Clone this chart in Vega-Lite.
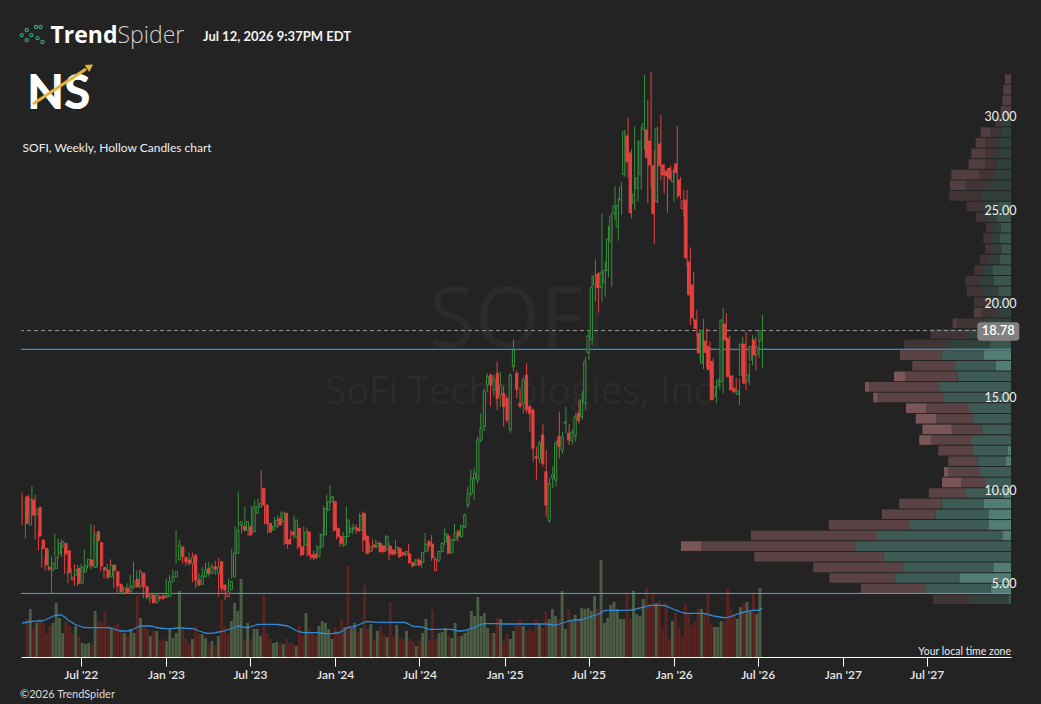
{
  "$schema": "https://vega.github.io/schema/vega-lite/v6.json",
  "width": 990,
  "height": 617,
  "autosize": "none",
  "padding": {"left": 21, "top": 40, "right": 30, "bottom": 47},
  "background": "#232323",
  "config": {"view": {"stroke": null}, "font": "Lato"},
  "datasets": {
    "w": [
      {"d":"2022-03-07","o":9.89,"h":10.1,"l":8.37,"c":8.46,"v":38,"m":34},
      {"d":"2022-03-14","o":8.37,"h":9.8,"l":7.66,"c":9.75,"v":48,"m":34.5},
      {"d":"2022-03-21","o":9.71,"h":9.98,"l":8.85,"c":8.91,"v":29,"m":35},
      {"d":"2022-03-28","o":8.91,"h":10.46,"l":8.82,"c":9.21,"v":34,"m":35.5},
      {"d":"2022-04-04","o":9.32,"h":9.98,"l":7.6,"c":7.78,"v":39,"m":35.8},
      {"d":"2022-04-11","o":7.57,"h":8.02,"l":7.0,"c":7.12,"v":34,"m":36},
      {"d":"2022-04-18","o":7.12,"h":7.2,"l":6.1,"c":6.23,"v":24,"m":36},
      {"d":"2022-04-25","o":6.11,"h":6.64,"l":5.93,"c":6.0,"v":31,"m":37},
      {"d":"2022-05-02","o":5.96,"h":7.07,"l":5.93,"c":6.32,"v":34,"m":38.5},
      {"d":"2022-05-09","o":6.05,"h":6.7,"l":4.71,"c":6.64,"v":54,"m":40},
      {"d":"2022-05-16","o":6.86,"h":7.93,"l":6.71,"c":7.39,"v":39,"m":41.5},
      {"d":"2022-05-23","o":7.21,"h":7.66,"l":6.59,"c":7.48,"v":24,"m":42},
      {"d":"2022-05-30","o":7.39,"h":7.6,"l":6.68,"c":6.82,"v":36,"m":42},
      {"d":"2022-06-06","o":6.99,"h":7.18,"l":5.75,"c":5.82,"v":31,"m":40},
      {"d":"2022-06-13","o":5.43,"h":6.05,"l":5.25,"c":5.57,"v":23,"m":37,"r":1},
      {"d":"2022-06-20","o":5.69,"h":6.05,"l":5.52,"c":5.99,"v":31,"m":35},
      {"d":"2022-06-27","o":6.05,"h":6.28,"l":5.11,"c":5.25,"v":21,"m":33},
      {"d":"2022-07-04","o":5.25,"h":6.23,"l":5.07,"c":6.1,"v":14,"m":31.5},
      {"d":"2022-07-11","o":5.87,"h":6.3,"l":5.8,"c":6.18,"v":13,"m":30.5},
      {"d":"2022-07-18","o":6.23,"h":7.07,"l":6.14,"c":6.53,"v":14,"m":29.5},
      {"d":"2022-07-25","o":6.5,"h":6.55,"l":6.05,"c":6.18,"v":12,"m":29.3},
      {"d":"2022-08-01","o":6.1,"h":8.43,"l":6.0,"c":7.89,"v":46,"m":29.3},
      {"d":"2022-08-08","o":8.02,"h":8.37,"l":7.21,"c":7.53,"v":36,"m":29.3},
      {"d":"2022-08-15","o":7.43,"h":7.5,"l":6.1,"c":6.18,"v":34,"m":29.3},
      {"d":"2022-08-22","o":6.09,"h":6.2,"l":5.9,"c":5.96,"v":46,"m":29.3},
      {"d":"2022-08-29","o":5.96,"h":6.1,"l":5.5,"c":5.57,"v":31,"m":29.3},
      {"d":"2022-09-05","o":5.6,"h":6.3,"l":5.5,"c":6.23,"v":29,"m":29.3},
      {"d":"2022-09-12","o":6.23,"h":6.53,"l":5.7,"c":5.93,"v":31,"m":29},
      {"d":"2022-09-19","o":5.88,"h":6.0,"l":5.0,"c":5.11,"v":33,"m":28},
      {"d":"2022-09-26","o":5.2,"h":5.43,"l":4.71,"c":4.8,"v":28,"m":27},
      {"d":"2022-10-03","o":4.75,"h":5.16,"l":4.7,"c":4.98,"v":24,"m":26},
      {"d":"2022-10-10","o":4.98,"h":5.07,"l":4.65,"c":4.71,"v":21,"m":26},
      {"d":"2022-10-17","o":4.8,"h":5.25,"l":4.75,"c":5.07,"v":28,"m":26},
      {"d":"2022-10-24","o":5.04,"h":5.7,"l":4.95,"c":5.34,"v":24,"m":26.5},
      {"d":"2022-10-31","o":5.46,"h":6.41,"l":4.98,"c":5.07,"v":61,"m":28},
      {"d":"2022-11-07","o":5.07,"h":5.95,"l":5.0,"c":5.87,"v":39,"m":29.5},
      {"d":"2022-11-14","o":5.79,"h":6.0,"l":4.98,"c":5.07,"v":32,"m":31},
      {"d":"2022-11-21","o":5.07,"h":5.1,"l":4.45,"c":4.5,"v":28,"m":31},
      {"d":"2022-11-28","o":4.45,"h":4.8,"l":4.4,"c":4.62,"v":21,"m":31},
      {"d":"2022-12-05","o":4.62,"h":4.7,"l":4.18,"c":4.22,"v":26,"m":31},
      {"d":"2022-12-12","o":4.2,"h":4.75,"l":4.15,"c":4.63,"v":26,"m":30.5},
      {"d":"2022-12-19","o":4.53,"h":4.6,"l":4.35,"c":4.45,"v":16,"m":29.5},
      {"d":"2022-12-26","o":4.57,"h":4.62,"l":4.3,"c":4.45,"v":18,"m":29},
      {"d":"2023-01-02","o":4.5,"h":4.7,"l":4.35,"c":4.62,"v":16,"m":28.5},
      {"d":"2023-01-09","o":4.54,"h":5.5,"l":4.5,"c":5.34,"v":29,"m":28.3},
      {"d":"2023-01-16","o":5.34,"h":5.7,"l":5.2,"c":5.6,"v":19,"m":28.3},
      {"d":"2023-01-23","o":5.6,"h":6.0,"l":5.5,"c":5.87,"v":24,"m":28.5},
      {"d":"2023-01-30","o":6.5,"h":8.1,"l":6.3,"c":7.3,"v":66,"m":29},
      {"d":"2023-02-06","o":7.2,"h":7.57,"l":6.6,"c":6.68,"v":28,"m":29.3},
      {"d":"2023-02-13","o":6.64,"h":6.7,"l":6.3,"c":6.41,"v":18,"m":29},
      {"d":"2023-02-20","o":6.5,"h":6.6,"l":6.2,"c":6.32,"v":13,"m":28.7},
      {"d":"2023-02-27","o":6.32,"h":6.9,"l":6.2,"c":6.64,"v":18,"m":28.5},
      {"d":"2023-03-06","o":6.77,"h":6.9,"l":5.3,"c":5.43,"v":31,"m":28.3},
      {"d":"2023-03-13","o":5.43,"h":5.6,"l":5.0,"c":5.16,"v":23,"m":27.5},
      {"d":"2023-03-20","o":5.2,"h":5.8,"l":5.1,"c":5.65,"v":23,"m":26},
      {"d":"2023-03-27","o":5.6,"h":6.1,"l":5.5,"c":5.96,"v":19,"m":25},
      {"d":"2023-04-03","o":6.05,"h":6.35,"l":5.7,"c":5.78,"v":14,"m":24},
      {"d":"2023-04-10","o":5.78,"h":6.4,"l":5.6,"c":6.14,"v":16,"m":23.7},
      {"d":"2023-04-17","o":6.14,"h":6.3,"l":5.9,"c":6.0,"v":11,"m":23.7},
      {"d":"2023-04-24","o":5.78,"h":6.45,"l":5.7,"c":6.14,"v":21,"m":24.3},
      {"d":"2023-05-01","o":6.41,"h":6.6,"l":4.55,"c":4.98,"v":57,"m":25},
      {"d":"2023-05-08","o":5.16,"h":5.3,"l":4.75,"c":4.9,"v":31,"m":25.5},
      {"d":"2023-05-15","o":4.54,"h":4.9,"l":4.36,"c":4.8,"v":23,"m":26.5,"r":1},
      {"d":"2023-05-22","o":4.9,"h":5.5,"l":4.8,"c":5.34,"v":36,"m":27.5},
      {"d":"2023-05-29","o":5.6,"h":7.1,"l":5.5,"c":6.86,"v":54,"m":28.5},
      {"d":"2023-06-05","o":6.86,"h":8.3,"l":6.8,"c":8.1,"v":46,"m":30},
      {"d":"2023-06-12","o":8.37,"h":10.16,"l":8.0,"c":8.55,"v":78,"m":31},
      {"d":"2023-06-19","o":8.3,"h":8.5,"l":7.9,"c":8.1,"v":18,"m":30.5},
      {"d":"2023-06-26","o":8.1,"h":9.35,"l":8.0,"c":8.55,"v":34,"m":29.5},
      {"d":"2023-07-03","o":8.3,"h":8.5,"l":7.75,"c":7.84,"v":18,"m":29.5},
      {"d":"2023-07-10","o":8.0,"h":9.4,"l":7.95,"c":9.35,"v":28,"m":30.5},
      {"d":"2023-07-17","o":9.0,"h":9.7,"l":8.9,"c":9.35,"v":28,"m":31.5},
      {"d":"2023-07-24","o":9.35,"h":9.8,"l":9.2,"c":9.53,"v":21,"m":32.5},
      {"d":"2023-07-31","o":10.34,"h":11.3,"l":9.3,"c":9.44,"v":62,"m":32.7},
      {"d":"2023-08-07","o":9.44,"h":9.6,"l":8.4,"c":8.46,"v":23,"m":32.7},
      {"d":"2023-08-14","o":8.46,"h":8.6,"l":7.9,"c":8.0,"v":18,"m":32.7},
      {"d":"2023-08-21","o":8.1,"h":8.5,"l":7.95,"c":8.3,"v":14,"m":32.7},
      {"d":"2023-08-28","o":8.3,"h":8.8,"l":8.2,"c":8.64,"v":15,"m":32.7},
      {"d":"2023-09-04","o":8.73,"h":8.9,"l":8.2,"c":8.37,"v":14,"m":32.5},
      {"d":"2023-09-11","o":8.55,"h":9.1,"l":8.4,"c":9.0,"v":13,"m":32},
      {"d":"2023-09-18","o":9.0,"h":9.1,"l":7.3,"c":7.39,"v":18,"m":31.5},
      {"d":"2023-09-25","o":7.6,"h":8.0,"l":7.1,"c":7.35,"v":14,"m":31},
      {"d":"2023-10-02","o":8.0,"h":8.1,"l":7.6,"c":7.84,"v":14,"m":29.5},
      {"d":"2023-10-09","o":7.75,"h":8.9,"l":7.6,"c":8.64,"v":11,"m":27.5},
      {"d":"2023-10-16","o":8.2,"h":8.5,"l":7.1,"c":7.2,"v":31,"m":26},
      {"d":"2023-10-23","o":7.2,"h":7.3,"l":6.7,"c":6.77,"v":21,"m":25},
      {"d":"2023-10-30","o":7.3,"h":8.3,"l":7.0,"c":8.0,"v":44,"m":24.3},
      {"d":"2023-11-06","o":8.0,"h":8.2,"l":6.7,"c":6.77,"v":29,"m":24.3},
      {"d":"2023-11-13","o":6.77,"h":6.9,"l":6.5,"c":6.64,"v":24,"m":24.3},
      {"d":"2023-11-20","o":6.8,"h":7.0,"l":6.5,"c":6.6,"v":21,"m":24.3},
      {"d":"2023-11-27","o":6.68,"h":7.3,"l":6.6,"c":7.2,"v":31,"m":24.3},
      {"d":"2023-12-04","o":7.2,"h":7.95,"l":7.1,"c":7.84,"v":36,"m":24},
      {"d":"2023-12-11","o":7.84,"h":9.4,"l":7.7,"c":9.26,"v":34,"m":23.5},
      {"d":"2023-12-18","o":9.17,"h":10.0,"l":9.0,"c":9.62,"v":28,"m":23.3},
      {"d":"2023-12-25","o":9.62,"h":10.5,"l":9.5,"c":9.89,"v":18,"m":23.3},
      {"d":"2024-01-01","o":9.62,"h":9.9,"l":8.0,"c":8.1,"v":30,"m":23.5},
      {"d":"2024-01-08","o":8.2,"h":8.4,"l":7.6,"c":7.75,"v":26,"m":24},
      {"d":"2024-01-15","o":7.75,"h":7.9,"l":7.2,"c":7.39,"v":38,"m":24.5},
      {"d":"2024-01-22","o":7.3,"h":8.0,"l":7.2,"c":7.75,"v":30,"m":26.5},
      {"d":"2024-01-29","o":7.75,"h":9.35,"l":7.4,"c":8.64,"v":91,"m":28.5,"vr":1},
      {"d":"2024-02-05","o":8.0,"h":8.4,"l":7.9,"c":8.2,"v":29,"m":30},
      {"d":"2024-02-12","o":8.15,"h":8.45,"l":7.9,"c":8.25,"v":34,"m":30.3},
      {"d":"2024-02-19","o":8.2,"h":8.4,"l":7.9,"c":8.07,"v":25,"m":31},
      {"d":"2024-02-26","o":8.1,"h":9.0,"l":8.0,"c":8.9,"v":29,"m":32.5},
      {"d":"2024-03-04","o":9.0,"h":9.1,"l":6.95,"c":7.57,"v":72,"m":34},
      {"d":"2024-03-11","o":7.75,"h":7.9,"l":6.8,"c":6.86,"v":28,"m":35.3},
      {"d":"2024-03-18","o":6.95,"h":7.4,"l":6.9,"c":7.2,"v":33,"m":35.3},
      {"d":"2024-03-25","o":7.3,"h":7.6,"l":7.0,"c":7.2,"v":18,"m":35},
      {"d":"2024-04-01","o":7.2,"h":7.6,"l":7.1,"c":7.39,"v":26,"m":34.8},
      {"d":"2024-04-08","o":7.39,"h":7.5,"l":6.9,"c":6.95,"v":31,"m":34.7},
      {"d":"2024-04-15","o":7.25,"h":7.3,"l":6.85,"c":6.95,"v":23,"m":34.7},
      {"d":"2024-04-22","o":7.03,"h":7.8,"l":6.95,"c":7.78,"v":20,"m":34.7},
      {"d":"2024-04-29","o":7.25,"h":7.39,"l":6.5,"c":6.82,"v":55,"m":34.7},
      {"d":"2024-05-06","o":7.03,"h":7.1,"l":6.75,"c":6.82,"v":21,"m":34.7},
      {"d":"2024-05-13","o":6.89,"h":7.57,"l":6.77,"c":7.18,"v":32,"m":34.7},
      {"d":"2024-05-20","o":7.12,"h":7.2,"l":6.6,"c":6.68,"v":19,"m":34.7},
      {"d":"2024-05-27","o":6.89,"h":6.95,"l":6.7,"c":6.77,"v":18,"m":34.7},
      {"d":"2024-06-03","o":6.77,"h":7.0,"l":6.7,"c":6.95,"v":26,"m":34.5},
      {"d":"2024-06-10","o":6.82,"h":7.35,"l":6.3,"c":6.36,"v":18,"m":33},
      {"d":"2024-06-17","o":6.36,"h":6.4,"l":6.1,"c":6.18,"v":16,"m":31},
      {"d":"2024-06-24","o":6.23,"h":6.55,"l":6.2,"c":6.5,"v":11,"m":30.3},
      {"d":"2024-07-01","o":6.5,"h":6.59,"l":6.18,"c":6.23,"v":16,"m":30.3},
      {"d":"2024-07-08","o":6.36,"h":6.9,"l":6.05,"c":6.89,"v":24,"m":30},
      {"d":"2024-07-15","o":6.95,"h":7.93,"l":6.9,"c":7.35,"v":38,"m":29},
      {"d":"2024-07-22","o":7.48,"h":7.57,"l":6.95,"c":7.25,"v":18,"m":28},
      {"d":"2024-07-29","o":7.35,"h":7.84,"l":6.45,"c":6.62,"v":47,"m":27.7},
      {"d":"2024-08-05","o":5.93,"h":6.68,"l":5.93,"c":6.53,"v":18,"m":27.7,"r":1},
      {"d":"2024-08-12","o":6.46,"h":7.0,"l":6.4,"c":6.95,"v":24,"m":27.7},
      {"d":"2024-08-19","o":6.95,"h":7.45,"l":6.9,"c":7.39,"v":25,"m":27.7},
      {"d":"2024-08-26","o":7.48,"h":8.2,"l":7.3,"c":7.89,"v":29,"m":27.7},
      {"d":"2024-09-02","o":7.78,"h":7.93,"l":6.82,"c":6.86,"v":21,"m":27.7},
      {"d":"2024-09-09","o":6.89,"h":7.62,"l":6.85,"c":7.6,"v":19,"m":27.7},
      {"d":"2024-09-16","o":7.57,"h":8.43,"l":7.5,"c":7.93,"v":34,"m":27},
      {"d":"2024-09-23","o":8.05,"h":8.1,"l":7.48,"c":7.78,"v":21,"m":26},
      {"d":"2024-09-30","o":7.75,"h":8.4,"l":7.7,"c":8.32,"v":21,"m":26},
      {"d":"2024-10-07","o":8.25,"h":9.0,"l":8.2,"c":8.91,"v":24,"m":26.5},
      {"d":"2024-10-14","o":9.44,"h":10.43,"l":9.27,"c":10.07,"v":27,"m":27.5},
      {"d":"2024-10-21","o":10.07,"h":11.32,"l":9.9,"c":10.87,"v":46,"m":28.7},
      {"d":"2024-10-28","o":10.87,"h":11.41,"l":9.71,"c":11.14,"v":41,"m":29.3},
      {"d":"2024-11-04","o":10.78,"h":13.1,"l":10.6,"c":12.92,"v":60,"m":31},
      {"d":"2024-11-11","o":12.92,"h":14.35,"l":12.8,"c":13.55,"v":41,"m":32.5},
      {"d":"2024-11-18","o":13.64,"h":15.7,"l":13.4,"c":15.51,"v":44,"m":33.3},
      {"d":"2024-11-25","o":15.87,"h":16.5,"l":15.5,"c":16.31,"v":29,"m":33.3},
      {"d":"2024-12-02","o":16.4,"h":16.49,"l":14.71,"c":15.87,"v":24,"m":33.3},
      {"d":"2024-12-09","o":15.6,"h":16.4,"l":15.3,"c":16.14,"v":24,"m":33.3},
      {"d":"2024-12-16","o":16.49,"h":17.12,"l":14.53,"c":15.15,"v":39,"m":33.3},
      {"d":"2024-12-23","o":15.33,"h":16.58,"l":14.71,"c":15.87,"v":38,"m":33.2},
      {"d":"2024-12-30","o":15.42,"h":15.82,"l":13.64,"c":14.71,"v":16,"m":33},
      {"d":"2025-01-06","o":15.15,"h":15.3,"l":13.82,"c":13.99,"v":23,"m":33},
      {"d":"2025-01-13","o":13.46,"h":16.5,"l":13.3,"c":16.4,"v":18,"m":33},
      {"d":"2025-01-20","o":16.85,"h":18.31,"l":16.6,"c":17.74,"v":26,"m":33},
      {"d":"2025-01-27","o":16.5,"h":16.64,"l":15.15,"c":15.64,"v":33,"m":33},
      {"d":"2025-02-03","o":14.89,"h":15.69,"l":14.62,"c":14.74,"v":38,"m":33},
      {"d":"2025-02-10","o":14.89,"h":16.3,"l":14.35,"c":16.14,"v":31,"m":33},
      {"d":"2025-02-17","o":16.4,"h":17.03,"l":14.35,"c":14.53,"v":26,"m":33},
      {"d":"2025-02-24","o":14.71,"h":14.8,"l":13.37,"c":14.35,"v":28,"m":33},
      {"d":"2025-03-03","o":14.53,"h":14.6,"l":11.76,"c":12.48,"v":26,"m":33},
      {"d":"2025-03-10","o":12.03,"h":12.57,"l":10.78,"c":11.94,"v":38,"m":33},
      {"d":"2025-03-17","o":11.94,"h":12.9,"l":11.67,"c":12.75,"v":33,"m":33},
      {"d":"2025-03-24","o":13.19,"h":13.76,"l":11.5,"c":11.67,"v":29,"m":33},
      {"d":"2025-03-31","o":11.23,"h":12.39,"l":8.82,"c":9.44,"v":46,"m":33},
      {"d":"2025-04-07","o":8.61,"h":10.9,"l":8.5,"c":10.6,"v":38,"m":32.5},
      {"d":"2025-04-14","o":10.87,"h":11.53,"l":10.34,"c":11.05,"v":48,"m":32},
      {"d":"2025-04-21","o":10.78,"h":12.9,"l":10.43,"c":12.75,"v":41,"m":32},
      {"d":"2025-04-28","o":13.1,"h":14.44,"l":11.94,"c":12.57,"v":38,"m":33},
      {"d":"2025-05-05","o":12.39,"h":13.37,"l":12.2,"c":13.1,"v":66,"m":34},
      {"d":"2025-05-12","o":13.82,"h":14.71,"l":13.28,"c":13.9,"v":28,"m":35},
      {"d":"2025-05-19","o":13.28,"h":13.78,"l":12.66,"c":12.92,"v":48,"m":36},
      {"d":"2025-05-26","o":12.9,"h":13.5,"l":12.7,"c":13.32,"v":36,"m":36.8},
      {"d":"2025-06-02","o":13.14,"h":14.35,"l":12.83,"c":14.17,"v":42,"m":37},
      {"d":"2025-06-09","o":14.35,"h":15.1,"l":13.8,"c":13.96,"v":38,"m":37},
      {"d":"2025-06-16","o":14.17,"h":15.56,"l":14.0,"c":15.06,"v":49,"m":37.5},
      {"d":"2025-06-23","o":14.89,"h":17.39,"l":14.53,"c":17.12,"v":48,"m":38.5},
      {"d":"2025-06-30","o":17.6,"h":18.81,"l":17.21,"c":18.49,"v":49,"m":39.5},
      {"d":"2025-07-07","o":18.3,"h":21.76,"l":18.0,"c":21.1,"v":46,"m":40.8},
      {"d":"2025-07-14","o":21.22,"h":22.59,"l":20.33,"c":21.7,"v":61,"m":42},
      {"d":"2025-07-21","o":21.81,"h":21.9,"l":19.74,"c":21.08,"v":48,"m":43},
      {"d":"2025-07-28","o":21.1,"h":25.02,"l":20.33,"c":21.9,"v":97,"m":45},
      {"d":"2025-08-04","o":21.35,"h":22.51,"l":20.6,"c":21.99,"v":34,"m":46.7},
      {"d":"2025-08-11","o":21.99,"h":24.38,"l":21.63,"c":23.68,"v":39,"m":46.7},
      {"d":"2025-08-18","o":23.54,"h":25.09,"l":21.13,"c":24.91,"v":52,"m":46.7},
      {"d":"2025-08-25","o":25.02,"h":26.52,"l":24.7,"c":25.45,"v":55,"m":46.7},
      {"d":"2025-09-01","o":24.34,"h":25.86,"l":23.59,"c":25.48,"v":48,"m":46.7},
      {"d":"2025-09-08","o":25.77,"h":26.73,"l":24.97,"c":26.47,"v":38,"m":46.7},
      {"d":"2025-09-15","o":27.13,"h":29.52,"l":27.02,"c":29.41,"v":38,"m":46.7},
      {"d":"2025-09-22","o":29.2,"h":30.16,"l":26.97,"c":27.82,"v":64,"m":46.8},
      {"d":"2025-09-29","o":28.29,"h":28.5,"l":24.79,"c":25.09,"v":38,"m":47},
      {"d":"2025-10-06","o":25.59,"h":29.7,"l":25.24,"c":26.09,"v":66,"m":47.5},
      {"d":"2025-10-13","o":26.38,"h":28.98,"l":25.68,"c":26.95,"v":43,"m":48.5},
      {"d":"2025-10-20","o":27.15,"h":29.73,"l":26.31,"c":28.88,"v":41,"m":49.3},
      {"d":"2025-10-27","o":29.55,"h":32.46,"l":28.45,"c":29.84,"v":58,"m":50},
      {"d":"2025-11-03","o":29.52,"h":31.12,"l":25.59,"c":28.04,"v":69,"m":51},
      {"d":"2025-11-10","o":28.93,"h":32.61,"l":26.43,"c":27.64,"v":53,"m":51.7},
      {"d":"2025-11-17","o":27.59,"h":28.45,"l":23.43,"c":25.04,"v":64,"m":51.7},
      {"d":"2025-11-24","o":25.68,"h":29.7,"l":25.59,"c":29.61,"v":54,"m":51.7},
      {"d":"2025-12-01","o":28.77,"h":30.32,"l":26.84,"c":27.61,"v":56,"m":51.7},
      {"d":"2025-12-08","o":27.64,"h":27.7,"l":26.13,"c":27.11,"v":28,"m":51.5},
      {"d":"2025-12-15","o":27.32,"h":27.47,"l":25.09,"c":27.07,"v":54,"m":50.3},
      {"d":"2025-12-22","o":27.47,"h":27.6,"l":26.8,"c":26.93,"v":18,"m":49},
      {"d":"2025-12-29","o":26.75,"h":27.5,"l":25.68,"c":27.32,"v":36,"m":47.5},
      {"d":"2026-01-05","o":27.7,"h":29.73,"l":25.86,"c":27.23,"v":44,"m":46.3},
      {"d":"2026-01-12","o":26.84,"h":27.0,"l":25.81,"c":26.0,"v":30,"m":45},
      {"d":"2026-01-19","o":25.32,"h":26.31,"l":24.88,"c":25.72,"v":21,"m":44,"r":1},
      {"d":"2026-01-26","o":25.77,"h":26.31,"l":22.2,"c":22.68,"v":54,"m":43.7},
      {"d":"2026-02-02","o":22.45,"h":23.24,"l":19.08,"c":20.69,"v":44,"m":43.7},
      {"d":"2026-02-09","o":21.22,"h":21.92,"l":19.3,"c":19.47,"v":32,"m":43.7},
      {"d":"2026-02-16","o":19.35,"h":19.88,"l":18.45,"c":18.9,"v":36,"m":43.7},
      {"d":"2026-02-23","o":18.63,"h":18.8,"l":17.2,"c":17.58,"v":48,"m":43.7},
      {"d":"2026-03-02","o":17.03,"h":19.4,"l":16.71,"c":18.81,"v":48,"m":43.7},
      {"d":"2026-03-09","o":18.22,"h":18.9,"l":16.85,"c":17.6,"v":44,"m":43},
      {"d":"2026-03-16","o":17.92,"h":18.19,"l":16.49,"c":16.7,"v":63,"m":42},
      {"d":"2026-03-23","o":17.12,"h":17.29,"l":15.06,"c":15.08,"v":33,"m":41.2},
      {"d":"2026-03-30","o":15.24,"h":16.13,"l":14.89,"c":15.76,"v":30,"m":40.5},
      {"d":"2026-04-06","o":15.81,"h":16.3,"l":15.6,"c":16.13,"v":30,"m":40},
      {"d":"2026-04-13","o":16.05,"h":20.0,"l":15.42,"c":19.35,"v":36,"m":39.5},
      {"d":"2026-04-20","o":19.13,"h":19.7,"l":18.1,"c":18.28,"v":35,"m":39.3},
      {"d":"2026-04-27","o":18.37,"h":18.5,"l":16.0,"c":16.31,"v":68,"m":40},
      {"d":"2026-05-04","o":16.35,"h":16.4,"l":15.42,"c":15.6,"v":48,"m":41.3},
      {"d":"2026-05-11","o":15.69,"h":16.22,"l":15.42,"c":15.51,"v":41,"m":42.5},
      {"d":"2026-05-18","o":15.37,"h":16.22,"l":14.8,"c":15.55,"v":38,"m":43.7},
      {"d":"2026-05-25","o":16.4,"h":18.45,"l":16.13,"c":18.06,"v":50,"m":44.5},
      {"d":"2026-06-01","o":18.06,"h":18.72,"l":15.6,"c":15.96,"v":53,"m":45.3},
      {"d":"2026-06-08","o":16.05,"h":17.03,"l":15.87,"c":16.4,"v":55,"m":46},
      {"d":"2026-06-15","o":17.2,"h":18.54,"l":16.94,"c":17.92,"v":45,"m":46.7},
      {"d":"2026-06-22","o":18.28,"h":18.45,"l":16.67,"c":17.47,"v":64,"m":46.7},
      {"d":"2026-06-29","o":17.47,"h":18.3,"l":17.3,"c":17.9,"v":43,"m":47},
      {"d":"2026-07-06","o":18.24,"h":19.61,"l":16.76,"c":18.78,"v":69,"m":49}
    ],
    "vp": [
      {"lo":4.143,"hi":4.711,"e0":0,"e1":2.7,"e2":40,"e3":78,"e4":78,"va":0},
      {"lo":4.711,"hi":5.279,"e0":0,"e1":20.3,"e2":85,"e3":150,"e4":150,"va":1},
      {"lo":5.279,"hi":5.848,"e0":0,"e1":51.7,"e2":116.7,"e3":181.7,"e4":181.7,"va":1},
      {"lo":5.848,"hi":6.416,"e0":0,"e1":17.7,"e2":107,"e3":197.7,"e4":197.7,"va":1},
      {"lo":6.416,"hi":6.984,"e0":0,"e1":0,"e2":127.7,"e3":256.7,"e4":256.7,"va":1},
      {"lo":6.984,"hi":7.552,"e0":0,"e1":0,"e2":155,"e3":310,"e4":330,"va":1},
      {"lo":7.552,"hi":8.12,"e0":0,"e1":8.7,"e2":134,"e3":260,"e4":260,"va":1},
      {"lo":8.12,"hi":8.689,"e0":0,"e1":22.7,"e2":102,"e3":182.3,"e4":182.3,"va":1},
      {"lo":8.689,"hi":9.257,"e0":0,"e1":22.7,"e2":75.3,"e3":129,"e4":129,"va":1},
      {"lo":9.257,"hi":9.825,"e0":0,"e1":27.7,"e2":69.3,"e3":111.7,"e4":111.7,"va":1},
      {"lo":9.825,"hi":10.393,"e0":0,"e1":7,"e2":45,"e3":82.3,"e4":82.3,"va":1},
      {"lo":10.393,"hi":10.961,"e0":0,"e1":0,"e2":25,"e3":50,"e4":69,"va":1},
      {"lo":10.961,"hi":11.53,"e0":0,"e1":0,"e2":31,"e3":62.7,"e4":67,"va":1},
      {"lo":11.53,"hi":12.098,"e0":0,"e1":5,"e2":33.7,"e3":62.7,"e4":62.7,"va":1},
      {"lo":12.098,"hi":12.666,"e0":0,"e1":3.7,"e2":38.3,"e3":72.7,"e4":72.7,"va":1},
      {"lo":12.666,"hi":13.234,"e0":0,"e1":0,"e2":40,"e3":80,"e4":91.7,"va":1},
      {"lo":13.234,"hi":13.802,"e0":0,"e1":0,"e2":29.3,"e3":59.3,"e4":88.7,"va":1},
      {"lo":13.802,"hi":14.371,"e0":0,"e1":0,"e2":37,"e3":75,"e4":95.3,"va":1},
      {"lo":14.371,"hi":14.939,"e0":0,"e1":0,"e2":42,"e3":85,"e4":105,"va":1},
      {"lo":14.939,"hi":15.507,"e0":0,"e1":0,"e2":67,"e3":133.3,"e4":137.7,"va":1},
      {"lo":15.507,"hi":16.075,"e0":0,"e1":0,"e2":71,"e3":142,"e4":146,"va":1},
      {"lo":16.075,"hi":16.643,"e0":0,"e1":0,"e2":53.3,"e3":106,"e4":117,"va":1},
      {"lo":16.643,"hi":17.212,"e0":0,"e1":15,"e2":56.7,"e3":98.7,"e4":98.7,"va":1},
      {"lo":17.212,"hi":17.78,"e0":0,"e1":27,"e2":69.3,"e3":111,"e4":111,"va":1},
      {"lo":17.78,"hi":18.348,"e0":0,"e1":21,"e2":64.3,"e3":106.7,"e4":106.7,"va":0},
      {"lo":18.348,"hi":18.916,"e0":0,"e1":11,"e2":41,"e3":80.3,"e4":80.3,"va":0},
      {"lo":18.916,"hi":19.484,"e0":0,"e1":0,"e2":27.7,"e3":53.7,"e4":58.3,"va":0},
      {"lo":19.484,"hi":20.053,"e0":0,"e1":0,"e2":14.3,"e3":29.3,"e4":37,"va":0},
      {"lo":20.053,"hi":20.621,"e0":0,"e1":0,"e2":19,"e3":37,"e4":37,"va":0},
      {"lo":20.621,"hi":21.189,"e0":0,"e1":12.7,"e2":28.3,"e3":44.3,"e4":44.3,"va":0},
      {"lo":21.189,"hi":21.757,"e0":0,"e1":17,"e2":31.7,"e3":45.7,"e4":45.7,"va":0},
      {"lo":21.757,"hi":22.325,"e0":0,"e1":18.3,"e2":27,"e3":36.7,"e4":36.7,"va":0},
      {"lo":22.325,"hi":22.894,"e0":0,"e1":11,"e2":21,"e3":31,"e4":31,"va":0},
      {"lo":22.894,"hi":23.462,"e0":0,"e1":9.3,"e2":17.7,"e3":26,"e4":26,"va":0},
      {"lo":23.462,"hi":24.03,"e0":0,"e1":11,"e2":19.3,"e3":27.7,"e4":27.7,"va":0},
      {"lo":24.03,"hi":24.598,"e0":0,"e1":10.3,"e2":17.7,"e3":25,"e4":25,"va":0},
      {"lo":24.598,"hi":25.166,"e0":0,"e1":14.3,"e2":24.3,"e3":35,"e4":35,"va":0},
      {"lo":25.166,"hi":25.735,"e0":0,"e1":12.7,"e2":27.7,"e3":44.3,"e4":44.3,"va":0},
      {"lo":25.735,"hi":26.303,"e0":0,"e1":0,"e2":30.3,"e3":61.7,"e4":61.7,"va":0},
      {"lo":26.303,"hi":26.871,"e0":0,"e1":0,"e2":22.7,"e3":45,"e4":61,"va":0},
      {"lo":26.871,"hi":27.439,"e0":0,"e1":0,"e2":16,"e3":31.7,"e4":59.7,"va":0},
      {"lo":27.439,"hi":28.007,"e0":0,"e1":0,"e2":14.3,"e3":26,"e4":42.3,"va":0},
      {"lo":28.007,"hi":28.576,"e0":0,"e1":0,"e2":13.7,"e3":26,"e4":39.7,"va":0},
      {"lo":28.576,"hi":29.144,"e0":0,"e1":0,"e2":13.7,"e3":26,"e4":35.3,"va":0},
      {"lo":29.144,"hi":29.712,"e0":0,"e1":0,"e2":10.3,"e3":20.3,"e4":30.3,"va":0},
      {"lo":29.712,"hi":30.28,"e0":0,"e1":0,"e2":8,"e3":16,"e4":16,"va":0},
      {"lo":30.28,"hi":30.848,"e0":0,"e1":0,"e2":0,"e3":0,"e4":10.3,"va":0},
      {"lo":30.848,"hi":31.417,"e0":0,"e1":0,"e2":0,"e3":0,"e4":8.7,"va":0},
      {"lo":31.417,"hi":31.985,"e0":0,"e1":0,"e2":0,"e3":0,"e4":7.7,"va":0},
      {"lo":31.985,"hi":32.553,"e0":0,"e1":0,"e2":0,"e3":0,"e4":6,"va":0}
    ]
  },
  "layer": [
    {
      "data": {"values": [{"t": "SOFI", "d": "2025-01-29T17:00:00Z", "p": 17.9}]},
      "mark": {"type": "text", "font": "Open Sans", "fontSize": 84, "color": "#2b2b2b", "align": "center", "baseline": "alphabetic"},
      "encoding": {
        "x": {"field": "d", "type": "temporal", "scale": {"type": "utc", "domain": [{"year": 2022, "month": 3, "date": 4, "hours": 17, "utc": true}, {"year": 2027, "month": 12, "date": 19, "hours": 2, "utc": true}]}, "axis": null},
        "y": {"field": "p", "type": "quantitative", "scale": {"domain": [1.3062, 34.336], "nice": false, "zero": false}, "axis": null},
        "text": {"field": "t", "type": "nominal"}
      }
    },
    {
      "data": {"values": [{"t": "SoFi Technologies, Inc", "d": "2025-01-31T00:00:00Z", "p": 14.85}]},
      "mark": {"type": "text", "font": "Open Sans", "fontSize": 38, "color": "#2b2b2b", "align": "center", "baseline": "alphabetic"},
      "encoding": {
        "x": {"field": "d", "type": "temporal", "scale": {"type": "utc", "domain": [{"year": 2022, "month": 3, "date": 4, "hours": 17, "utc": true}, {"year": 2027, "month": 12, "date": 19, "hours": 2, "utc": true}]}, "axis": null},
        "y": {"field": "p", "type": "quantitative", "scale": {"domain": [1.3062, 34.336], "nice": false, "zero": false}, "axis": null},
        "text": {"field": "t", "type": "nominal"}
      }
    },
    {
      "data": {"name": "vp"},
      "mark": {"type": "rect", "color": "#527d72", "y2Offset": 1},
      "encoding": {
        "x": {"field": "e0", "type": "quantitative", "scale": {"domain": [0, 990], "reverse": true, "nice": false, "zero": false}, "axis": null},
        "x2": {"field": "e1"},
        "y": {"field": "lo", "type": "quantitative", "scale": {"domain": [1.3062, 34.336], "nice": false, "zero": false}, "axis": null},
        "y2": {"field": "hi"},
        "opacity": {"condition": {"test": "datum.va == 1", "value": 1}, "value": 0.55}
      }
    },
    {
      "data": {"name": "vp"},
      "mark": {"type": "rect", "color": "#3e5a54", "y2Offset": 1},
      "encoding": {
        "x": {"field": "e1", "type": "quantitative", "scale": {"domain": [0, 990], "reverse": true, "nice": false, "zero": false}, "axis": null},
        "x2": {"field": "e2"},
        "y": {"field": "lo", "type": "quantitative", "scale": {"domain": [1.3062, 34.336], "nice": false, "zero": false}, "axis": null},
        "y2": {"field": "hi"},
        "opacity": {"condition": {"test": "datum.va == 1", "value": 1}, "value": 0.55}
      }
    },
    {
      "data": {"name": "vp"},
      "mark": {"type": "rect", "color": "#5b4345", "y2Offset": 1},
      "encoding": {
        "x": {"field": "e2", "type": "quantitative", "scale": {"domain": [0, 990], "reverse": true, "nice": false, "zero": false}, "axis": null},
        "x2": {"field": "e3"},
        "y": {"field": "lo", "type": "quantitative", "scale": {"domain": [1.3062, 34.336], "nice": false, "zero": false}, "axis": null},
        "y2": {"field": "hi"},
        "opacity": {"condition": {"test": "datum.va == 1", "value": 1}, "value": 0.55}
      }
    },
    {
      "data": {"name": "vp"},
      "mark": {"type": "rect", "color": "#7a5658", "y2Offset": 1},
      "encoding": {
        "x": {"field": "e3", "type": "quantitative", "scale": {"domain": [0, 990], "reverse": true, "nice": false, "zero": false}, "axis": null},
        "x2": {"field": "e4"},
        "y": {"field": "lo", "type": "quantitative", "scale": {"domain": [1.3062, 34.336], "nice": false, "zero": false}, "axis": null},
        "y2": {"field": "hi"},
        "opacity": {"condition": {"test": "datum.va == 1", "value": 1}, "value": 0.55}
      }
    },
    {
      "data": {"name": "w"},
      "mark": {"type": "bar", "width": 2.9},
      "encoding": {
        "x": {"field": "d", "type": "temporal", "scale": {"type": "utc", "domain": [{"year": 2022, "month": 3, "date": 4, "hours": 17, "utc": true}, {"year": 2027, "month": 12, "date": 19, "hours": 2, "utc": true}]}, "axis": null},
        "y": {"field": "v", "type": "quantitative", "scale": {"domain": [0, 617], "nice": false}, "axis": null},
        "color": {"condition": {"test": "datum.c < datum.o || datum.r == 1 || datum.vr == 1", "value": "#5a231f"}, "value": "#4b5e44"}
      }
    },
    {
      "data": {"name": "w"},
      "mark": {"type": "line", "color": "#2f8ad8", "strokeWidth": 1.3},
      "encoding": {
        "x": {"field": "d", "type": "temporal", "scale": {"type": "utc", "domain": [{"year": 2022, "month": 3, "date": 4, "hours": 17, "utc": true}, {"year": 2027, "month": 12, "date": 19, "hours": 2, "utc": true}]}, "axis": null},
        "y": {"field": "m", "type": "quantitative", "scale": {"domain": [0, 617], "nice": false}, "axis": null}
      }
    },
    {
      "data": {"values": [{"p": 17.78}, {"p": 4.71}]},
      "mark": {"type": "rule", "color": "#38b0e4", "strokeWidth": 1},
      "encoding": {
        "y": {"field": "p", "type": "quantitative", "scale": {"domain": [1.3062, 34.336], "nice": false, "zero": false}, "axis": null}
      }
    },
    {
      "data": {"values": [{"p": 18.78}]},
      "mark": {"type": "rule", "color": "#9a9a9a", "strokeWidth": 1, "strokeDash": [4, 3]},
      "encoding": {
        "y": {"field": "p", "type": "quantitative", "scale": {"domain": [1.3062, 34.336], "nice": false, "zero": false}, "axis": null}
      }
    },
    {
      "data": {"name": "w"},
      "mark": {"type": "rule", "strokeWidth": 1},
      "encoding": {
        "x": {"field": "d", "type": "temporal", "scale": {"type": "utc", "domain": [{"year": 2022, "month": 3, "date": 4, "hours": 17, "utc": true}, {"year": 2027, "month": 12, "date": 19, "hours": 2, "utc": true}]}, "axis": null},
        "y": {"field": "l", "type": "quantitative", "scale": {"domain": [1.3062, 34.336], "nice": false, "zero": false}, "axis": null},
        "y2": {"field": "h"},
        "color": {"condition": {"test": "datum.c < datum.o || datum.r == 1", "value": "#e5403e"}, "value": "#36903c"}
      }
    },
    {
      "data": {"name": "w"},
      "mark": {"type": "bar", "width": 2.2, "strokeWidth": 1},
      "encoding": {
        "x": {
          "field": "d", "type": "temporal",
          "scale": {"type": "utc", "domain": [{"year": 2022, "month": 3, "date": 4, "hours": 17, "utc": true}, {"year": 2027, "month": 12, "date": 19, "hours": 2, "utc": true}]},
          "axis": {
            "orient": "bottom", "title": null, "grid": false,
            "values": [
              {"year": 2022, "month": 7, "date": 1, "utc": true},
              {"year": 2023, "month": 1, "date": 1, "utc": true},
              {"year": 2023, "month": 7, "date": 1, "utc": true},
              {"year": 2024, "month": 1, "date": 1, "utc": true},
              {"year": 2024, "month": 7, "date": 1, "utc": true},
              {"year": 2025, "month": 1, "date": 1, "utc": true},
              {"year": 2025, "month": 7, "date": 1, "utc": true},
              {"year": 2026, "month": 1, "date": 1, "utc": true},
              {"year": 2026, "month": 7, "date": 1, "utc": true},
              {"year": 2027, "month": 1, "date": 1, "utc": true},
              {"year": 2027, "month": 7, "date": 1, "utc": true}
            ],
            "labelExpr": "utcFormat(datum.value, \"%b '%y\")",
            "domainColor": "#ffffff", "domainWidth": 1,
            "tickColor": "#ffffff", "tickSize": 9, "tickWidth": 1,
            "labelColor": "#e8e8e8", "labelFont": "Lato", "labelFontSize": 12, "labelFontWeight": 600,
            "labelPadding": 3, "labelFlush": false, "labelOverlap": false
          }
        },
        "y": {
          "field": "o", "type": "quantitative",
          "scale": {"domain": [1.3062, 34.336], "nice": false, "zero": false},
          "axis": {
            "orient": "right", "title": null, "grid": false, "domain": false, "ticks": false, "tickSize": 0,
            "values": [5, 10, 15, 20, 25, 30], "format": ".2f",
            "labelAlign": "right", "labelBaseline": "alphabetic", "labelPadding": 5,
            "labelColor": "#f0f0f0", "labelFont": "Lato", "labelFontSize": 12.5, "zindex": 1
          }
        },
        "y2": {"field": "c"},
        "stroke": {"condition": {"test": "datum.c < datum.o || datum.r == 1", "value": "#e5403e"}, "value": "#36903c"},
        "fill": {"condition": {"test": "datum.c < datum.o", "value": "#e5403e"}, "value": "#232323"}
      }
    },
    {
      "data": {"values": [{"x1": -8.3, "x2": 33.7, "p1": 18.24, "p2": 19.22}]},
      "mark": {"type": "rect", "color": "#808080", "cornerRadius": 3},
      "encoding": {
        "x": {"field": "x1", "type": "quantitative", "scale": {"domain": [0, 990], "reverse": true, "nice": false, "zero": false}, "axis": null},
        "x2": {"field": "x2"},
        "y": {"field": "p1", "type": "quantitative", "scale": {"domain": [1.3062, 34.336], "nice": false, "zero": false}, "axis": null},
        "y2": {"field": "p2"}
      }
    },
    {
      "data": {"values": [{"p": 18.78, "x": 12.7}]},
      "mark": {"type": "text", "font": "Lato", "fontSize": 13, "fontWeight": 600, "color": "#ffffff", "align": "center", "baseline": "middle"},
      "encoding": {
        "x": {"field": "x", "type": "quantitative", "scale": {"domain": [0, 990], "reverse": true, "nice": false, "zero": false}, "axis": null},
        "y": {"field": "p", "type": "quantitative", "scale": {"domain": [1.3062, 34.336], "nice": false, "zero": false}, "axis": null},
        "text": {"field": "p", "type": "quantitative", "format": ".2f"}
      }
    },
    {
      "data": {"values": [{"t": "Trend", "d": "2022-09-27T00:00:00Z", "p": 34.19}]},
      "mark": {"type": "text", "font": "Open Sans", "fontSize": 23, "fontWeight": "bold", "color": "#ffffff", "align": "right", "baseline": "alphabetic"},
      "encoding": {
        "x": {"field": "d", "type": "temporal", "scale": {"type": "utc", "domain": [{"year": 2022, "month": 3, "date": 4, "hours": 17, "utc": true}, {"year": 2027, "month": 12, "date": 19, "hours": 2, "utc": true}]}, "axis": null},
        "y": {"field": "p", "type": "quantitative", "scale": {"domain": [1.3062, 34.336], "nice": false, "zero": false}, "axis": null},
        "text": {"field": "t", "type": "nominal"}
      }
    },
    {
      "data": {"values": [{"t": "Spider", "d": "2022-09-27T00:00:00Z", "p": 34.19}]},
      "mark": {"type": "text", "font": "Open Sans", "fontSize": 23, "fontWeight": 300, "color": "#cfcfcf", "align": "left", "baseline": "alphabetic"},
      "encoding": {
        "x": {"field": "d", "type": "temporal", "scale": {"type": "utc", "domain": [{"year": 2022, "month": 3, "date": 4, "hours": 17, "utc": true}, {"year": 2027, "month": 12, "date": 19, "hours": 2, "utc": true}]}, "axis": null},
        "y": {"field": "p", "type": "quantitative", "scale": {"domain": [1.3062, 34.336], "nice": false, "zero": false}, "axis": null},
        "text": {"field": "t", "type": "nominal"}
      }
    },
    {
      "data": {"values": [{"t": "Jul 12, 2026 9:37PM EDT", "d": "2023-03-28T14:00:00Z", "p": 34.28}]},
      "mark": {"type": "text", "font": "Lato", "fontSize": 13, "fontWeight": "bold", "color": "#f2f2f2", "align": "left", "baseline": "alphabetic"},
      "encoding": {
        "x": {"field": "d", "type": "temporal", "scale": {"type": "utc", "domain": [{"year": 2022, "month": 3, "date": 4, "hours": 17, "utc": true}, {"year": 2027, "month": 12, "date": 19, "hours": 2, "utc": true}]}, "axis": null},
        "y": {"field": "p", "type": "quantitative", "scale": {"domain": [1.3062, 34.336], "nice": false, "zero": false}, "axis": null},
        "text": {"field": "t", "type": "nominal"}
      }
    },
    {
      "data": {"values": [{"t": "SOFI, Weekly, Hollow Candles chart", "d": "2022-03-08T00:00:00Z", "p": 28.34}]},
      "mark": {"type": "text", "font": "Lato", "fontSize": 12, "color": "#eeeeee", "align": "left", "baseline": "alphabetic"},
      "encoding": {
        "x": {"field": "d", "type": "temporal", "scale": {"type": "utc", "domain": [{"year": 2022, "month": 3, "date": 4, "hours": 17, "utc": true}, {"year": 2027, "month": 12, "date": 19, "hours": 2, "utc": true}]}, "axis": null},
        "y": {"field": "p", "type": "quantitative", "scale": {"domain": [1.3062, 34.336], "nice": false, "zero": false}, "axis": null},
        "text": {"field": "t", "type": "nominal"}
      }
    },
    {
      "data": {"values": [{"t": "©2026 TrendSpider", "d": "2022-03-02T14:00:00Z", "p": -0.889}]},
      "mark": {"type": "text", "font": "Lato", "fontSize": 11, "color": "#dcdcdc", "align": "left", "baseline": "alphabetic"},
      "encoding": {
        "x": {"field": "d", "type": "temporal", "scale": {"type": "utc", "domain": [{"year": 2022, "month": 3, "date": 4, "hours": 17, "utc": true}, {"year": 2027, "month": 12, "date": 19, "hours": 2, "utc": true}]}, "axis": null},
        "y": {"field": "p", "type": "quantitative", "scale": {"domain": [1.3062, 34.336], "nice": false, "zero": false}, "axis": null},
        "text": {"field": "t", "type": "nominal"}
      }
    },
    {
      "data": {"values": [{"t": "Your local time zone", "d": "2027-12-19T02:00:00Z", "p": 1.413}]},
      "mark": {"type": "text", "font": "Lato", "fontSize": 10.5, "color": "#e8e8e8", "align": "right", "baseline": "alphabetic"},
      "encoding": {
        "x": {"field": "d", "type": "temporal", "scale": {"type": "utc", "domain": [{"year": 2022, "month": 3, "date": 4, "hours": 17, "utc": true}, {"year": 2027, "month": 12, "date": 19, "hours": 2, "utc": true}]}, "axis": null},
        "y": {"field": "p", "type": "quantitative", "scale": {"domain": [1.3062, 34.336], "nice": false, "zero": false}, "axis": null},
        "text": {"field": "t", "type": "nominal"}
      }
    },
    {
      "data": {"values": [{"t": "NS", "d": "2022-03-17T12:00:00Z", "p": 30.64}]},
      "mark": {"type": "text", "font": "Lato", "fontSize": 48, "fontWeight": 900, "color": "#ffffff", "align": "left", "baseline": "alphabetic"},
      "encoding": {
        "x": {"field": "d", "type": "temporal", "scale": {"type": "utc", "domain": [{"year": 2022, "month": 3, "date": 4, "hours": 17, "utc": true}, {"year": 2027, "month": 12, "date": 19, "hours": 2, "utc": true}]}, "axis": null},
        "y": {"field": "p", "type": "quantitative", "scale": {"domain": [1.3062, 34.336], "nice": false, "zero": false}, "axis": null},
        "text": {"field": "t", "type": "nominal"}
      }
    },
    {
      "data": {"values": [{"d": "2022-03-30T07:00:00Z", "p": 30.91}, {"d": "2022-07-21T14:00:00Z", "p": 32.78}]},
      "mark": {"type": "line", "color": "#e6b43c", "strokeWidth": 3},
      "encoding": {
        "x": {"field": "d", "type": "temporal", "scale": {"type": "utc", "domain": [{"year": 2022, "month": 3, "date": 4, "hours": 17, "utc": true}, {"year": 2027, "month": 12, "date": 19, "hours": 2, "utc": true}]}, "axis": null},
        "y": {"field": "p", "type": "quantitative", "scale": {"domain": [1.3062, 34.336], "nice": false, "zero": false}, "axis": null}
      }
    },
    {
      "data": {"values": [{"d": "2022-07-30T02:00:00Z", "p": 32.92}]},
      "mark": {"type": "point", "shape": "triangle-up", "filled": true, "color": "#e6b43c", "size": 70, "angle": 57, "opacity": 1},
      "encoding": {
        "x": {"field": "d", "type": "temporal", "scale": {"type": "utc", "domain": [{"year": 2022, "month": 3, "date": 4, "hours": 17, "utc": true}, {"year": 2027, "month": 12, "date": 19, "hours": 2, "utc": true}]}, "axis": null},
        "y": {"field": "p", "type": "quantitative", "scale": {"domain": [1.3062, 34.336], "nice": false, "zero": false}, "axis": null}
      }
    },
    {
      "data": {"values": [
        {"d": "2022-03-06T05:00:00Z", "p": 34.6},
        {"d": "2022-03-16T22:00:00Z", "p": 34.87},
        {"d": "2022-03-16T22:00:00Z", "p": 34.33},
        {"d": "2022-03-27T02:00:00Z", "p": 34.6},
        {"d": "2022-04-05T19:00:00Z", "p": 35.03},
        {"d": "2022-04-15T10:00:00Z", "p": 35.03},
        {"d": "2022-04-09T00:00:00Z", "p": 34.44},
        {"d": "2022-04-19T14:00:00Z", "p": 34.23}
      ]},
      "mark": {"type": "point", "filled": false, "color": "#3c9e88", "size": 10, "strokeWidth": 1.2, "opacity": 1},
      "encoding": {
        "x": {"field": "d", "type": "temporal", "scale": {"type": "utc", "domain": [{"year": 2022, "month": 3, "date": 4, "hours": 17, "utc": true}, {"year": 2027, "month": 12, "date": 19, "hours": 2, "utc": true}]}, "axis": null},
        "y": {"field": "p", "type": "quantitative", "scale": {"domain": [1.3062, 34.336], "nice": false, "zero": false}, "axis": null}
      }
    }
  ],
  "resolve": {"scale": {"x": "independent", "y": "independent"}}
}
